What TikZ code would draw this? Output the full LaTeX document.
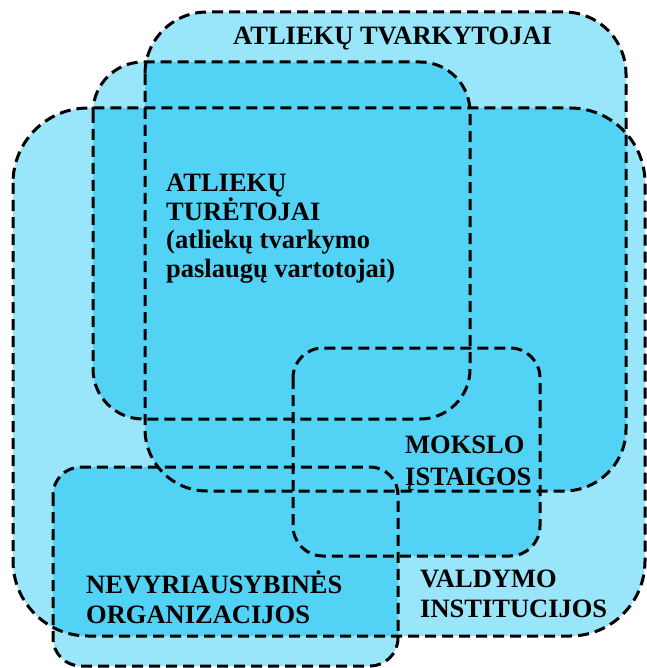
\documentclass[tikz,border=0pt]{standalone}
\usepackage{fontspec}
\setmainfont{Liberation Serif}
\definecolor{regfill}{RGB}{0,190,240}
\colorlet{onelayer}{regfill!40}
\colorlet{twolayer}{regfill!68}
\begin{document}
\begin{tikzpicture}[x=1pt,y=-1pt,
  area/.style={rectangle, inner sep=0pt, outer sep=0pt, anchor=north west},
  border/.style={draw=black, line width=3pt, dash pattern=on 11pt off 6pt},
  lbl/.style={font=\bfseries\fontsize{26.5}{#1}\selectfont, align=left, anchor=base west, inner sep=0pt},
  lbl/.default=30]
\useasboundingbox (0,0) rectangle (646,668);
% region frames (shapes only)
\node[area, minimum width=632pt, minimum height=528pt] (valdymo) at (13,108) {};
\node[area, minimum width=481pt, minimum height=479pt] (tvark) at (145,12) {};
\node[area, minimum width=377pt, minimum height=357pt] (turet) at (93,62) {};
\node[area, minimum width=247pt, minimum height=208pt] (mokslo) at (293,348) {};
\node[area, minimum width=345pt, minimum height=199pt] (nvo) at (53,467) {};
% single-layer fill
\foreach \n/\r in {valdymo/75,tvark/62,turet/50,mokslo/30,nvo/28}
  \fill[onelayer, rounded corners=\r pt] (\n.north west) rectangle (\n.south east);
% overlaps
\foreach \a/\ra/\b/\rb in {valdymo/75/tvark/62, valdymo/75/turet/50, valdymo/75/mokslo/30, valdymo/75/nvo/28,
    tvark/62/turet/50, tvark/62/mokslo/30, tvark/62/nvo/28, turet/50/mokslo/30, mokslo/30/nvo/28}
{
  \begin{scope}
    \clip[rounded corners=\ra pt] (\a.north west) rectangle (\a.south east);
    \fill[twolayer, rounded corners=\rb pt] (\b.north west) rectangle (\b.south east);
  \end{scope}
}
% dashed borders
\foreach \n/\r in {valdymo/75,tvark/62,turet/50,mokslo/30,nvo/28}
  \draw[border, rounded corners=\r pt] (\n.north west) rectangle (\n.south east);
% labels
\node[lbl] (t1) at (233,45) {ATLIEKŲ TVARKYTOJAI};
\node[lbl=28.5] (t2) at (166,277) {ATLIEKŲ\\TURĖTOJAI\\(atliekų tvarkymo\\paslaugų vartotojai)};
\node[lbl=32] (t3) at (405,485) {MOKSLO\\ĮSTAIGOS};
\node[lbl=30] (t4) at (86,623) {NEVYRIAUSYBINĖS\\ORGANIZACIJOS};
\node[lbl=30] (t5) at (420,617) {VALDYMO\\INSTITUCIJOS};
\end{tikzpicture}
\end{document}
